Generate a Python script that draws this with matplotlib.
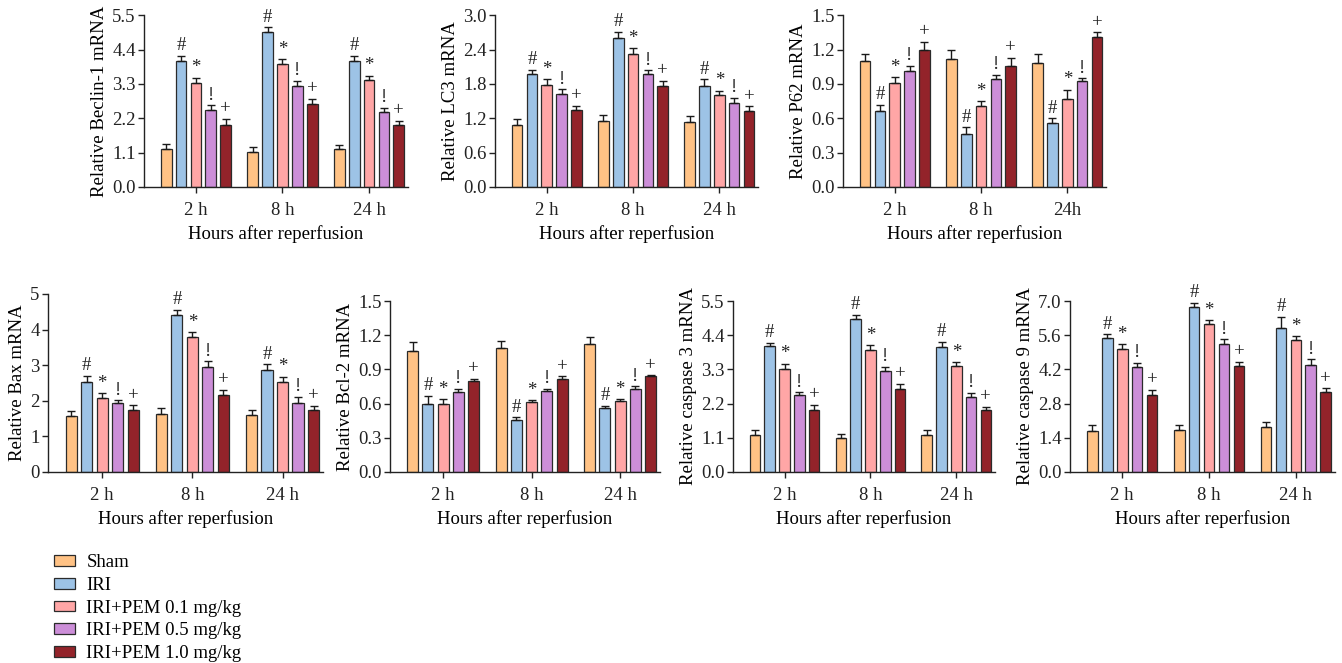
import numpy as np
import matplotlib
matplotlib.use("Agg")
import matplotlib.pyplot as plt
from matplotlib.patches import Patch

plt.rcParams['font.family'] = ['Liberation Serif', 'DejaVu Serif']
plt.rcParams['font.size'] = 13.5

groups = ["Sham", "IRI", "IRI+PEM 0.1 mg/kg", "IRI+PEM 0.5 mg/kg", "IRI+PEM 1.0 mg/kg"]
colors = ["#FFC285", "#9DC3E6", "#FFA6A6", "#CC8ED8", "#93232A"]
marks = ["", "#", "*", "!", "+"]
times = ["2 h", "8 h", "24 h"]
times_p62 = ["2 h", "8 h", "24h"]

# rows = groups, cols = 2 h, 8 h, 24 h
beclin = [[1.21, 1.12, 1.21], [4.04, 4.95, 4.04], [3.33, 3.95, 3.42], [2.48, 3.24, 2.41], [2.00, 2.67, 1.97]]
beclin_err = [[0.18, 0.15, 0.14], [0.17, 0.17, 0.17], [0.17, 0.15, 0.14], [0.13, 0.16, 0.13], [0.18, 0.16, 0.15]]

lc3 = [[1.09, 1.15, 1.13], [1.98, 2.60, 1.76], [1.79, 2.33, 1.61], [1.63, 1.97, 1.46], [1.34, 1.77, 1.33]]
lc3_err = [[0.10, 0.11, 0.11], [0.07, 0.11, 0.12], [0.09, 0.09, 0.07], [0.08, 0.07, 0.10], [0.08, 0.09, 0.08]]

p62 = [[1.10, 1.12, 1.08], [0.66, 0.46, 0.56], [0.91, 0.71, 0.77], [1.01, 0.94, 0.93], [1.20, 1.06, 1.31]]
p62_err = [[0.06, 0.08, 0.08], [0.06, 0.06, 0.04], [0.05, 0.04, 0.08], [0.05, 0.04, 0.02], [0.07, 0.07, 0.04]]

bax = [[1.56, 1.62, 1.61], [2.52, 4.41, 2.87], [2.09, 3.79, 2.52], [1.93, 2.96, 1.94], [1.73, 2.17, 1.75]]
bax_err = [[0.14, 0.17, 0.12], [0.18, 0.15, 0.15], [0.12, 0.14, 0.16], [0.08, 0.15, 0.17], [0.15, 0.14, 0.11]]

bcl2 = [[1.06, 1.09, 1.12], [0.60, 0.46, 0.56], [0.60, 0.61, 0.62], [0.70, 0.71, 0.73], [0.80, 0.82, 0.84]]
bcl2_err = [[0.08, 0.06, 0.06], [0.07, 0.02, 0.02], [0.04, 0.02, 0.02], [0.03, 0.02, 0.02], [0.02, 0.02, 0.01]]

casp3 = [[1.20, 1.09, 1.20], [4.06, 4.91, 4.01], [3.31, 3.93, 3.41], [2.48, 3.24, 2.41], [1.99, 2.68, 1.99]]
casp3_err = [[0.16, 0.14, 0.14], [0.10, 0.15, 0.18], [0.17, 0.15, 0.13], [0.09, 0.15, 0.14], [0.18, 0.15, 0.11]]

casp9 = [[1.67, 1.73, 1.84], [5.47, 6.74, 5.88], [5.03, 6.05, 5.41], [4.30, 5.22, 4.39], [3.16, 4.32, 3.27]]
casp9_err = [[0.24, 0.18, 0.19], [0.17, 0.19, 0.48], [0.20, 0.16, 0.15], [0.18, 0.21, 0.23], [0.20, 0.20, 0.15]]

# (values, errors, ylabel, yticks, tick format, xticklabels, axes rect)
panels = [
    (beclin, beclin_err, "Relative Beclin-1 mRNA", np.arange(0, 5.51, 1.1), "%.1f", times,
     [0.1073, 0.718, 0.1967, 0.259]),
    (lc3, lc3_err, "Relative LC3 mRNA", np.arange(0, 3.01, 0.6), "%.1f", times,
     [0.3689, 0.718, 0.196, 0.259]),
    (p62, p62_err, "Relative P62 mRNA", np.arange(0, 1.51, 0.3), "%.1f", times_p62,
     [0.6282, 0.718, 0.196, 0.259]),
    (bax, bax_err, "Relative Bax mRNA", np.arange(0, 5.1, 1), "%d", times,
     [0.0358, 0.2881, 0.205, 0.2685]),
    (bcl2, bcl2_err, "Relative Bcl-2 mRNA", np.arange(0, 1.51, 0.3), "%.1f", times,
     [0.2906, 0.2881, 0.2012, 0.2579]),
    (casp3, casp3_err, "Relative caspase 3 mRNA", np.arange(0, 5.51, 1.1), "%.1f", times,
     [0.5462, 0.2881, 0.1952, 0.2579]),
    (casp9, casp9_err, "Relative caspase 9 mRNA", np.arange(0, 7.01, 1.4), "%.1f", times,
     [0.7973, 0.2881, 0.1975, 0.2579]),
]

fig = plt.figure(figsize=(13.42, 6.63), dpi=100)

pitch = 0.172
width = 0.124
x = np.arange(3)

for vals, errs, ylab, yt, fmt, xtl, rect in panels:
    ax = fig.add_axes(rect)
    for i in range(5):
        pos = x + (i - 2) * pitch
        ax.bar(pos, vals[i], width, color=colors[i], edgecolor="#2b2b2b", linewidth=0.9, zorder=2)
        ax.errorbar(pos, vals[i], yerr=[np.zeros(3), errs[i]], fmt="none", ecolor="#1a1a1a",
                    elinewidth=1.0, capsize=3, capthick=1.0, zorder=3)
        if marks[i]:
            for p, v, e in zip(pos, vals[i], errs[i]):
                ax.annotate(marks[i], (p, v + e), xytext=(0, 1), textcoords="offset points",
                            ha="center", va="bottom", fontsize=13.5, color="#222222")
    ax.set_xlim(-0.6, 2.45)
    ax.set_ylim(0, yt[-1])
    ax.set_yticks(yt)
    ax.set_yticklabels([fmt % t for t in yt])
    ax.set_xticks(x)
    ax.set_xticklabels(xtl)
    ax.set_ylabel(ylab, labelpad=3)
    ax.set_xlabel("Hours after reperfusion", labelpad=4)
    for s in ["top", "right"]:
        ax.spines[s].set_visible(False)
    for s in ["left", "bottom"]:
        ax.spines[s].set_linewidth(1.0)
        ax.spines[s].set_color("#222222")
    ax.tick_params(direction="out", length=4, width=1.0, colors="#222222", labelsize=13.5)
    ax.tick_params(axis="y", pad=2)
    ax.tick_params(axis="x", pad=7)

handles = [Patch(facecolor=c, edgecolor="#2b2b2b", linewidth=0.9) for c in colors]
fig.legend(handles, groups, loc="upper left", bbox_to_anchor=(0.033, 0.178), frameon=False,
           handlelength=1.15, handleheight=0.5, labelspacing=0.3, handletextpad=0.6,
           borderpad=0, fontsize=13.5)

fig.savefig("out.png", dpi=100)
